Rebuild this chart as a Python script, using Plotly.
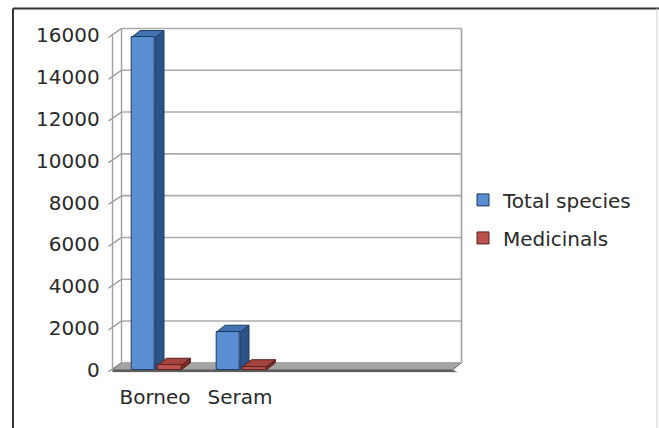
import plotly.graph_objects as go

# ---- data ----
categories = ["Borneo", "Seram"]
total_species = [15900, 1800]
medicinals = [220, 150]
slot_labels = ["Borneo", "Seram", "", ""]
y_ticks = [0, 2000, 4000, 6000, 8000, 10000, 12000, 14000, 16000]
y_tick_labels = ["0", "2000", "4000", "6000", "8000", "10000", "12000", "14000", "16000"]

# ---- geometry (pixel layout, measured on the 659x428 picture) ----
W, H = 659, 440
SY = H / 428.0                               # vertical design scale
X0_PX, CAT_PX = 155.0, 85.0                  # front pixel of category 0, pixels per category
Y0_PX = 367.0 * SY                           # front pixel of value 0
PX_PER_UNIT = 0.02085 * SY                   # pixels per unit
XR = [-0.58, 3.66]
YR = [-130, 16450]
DX = 9.0 / CAT_PX                            # depth offset (3D look) in data units
DY = 7.0 * SY / PX_PER_UNIT

def px_x(c):
    return X0_PX + CAT_PX * c

def px_y(v):
    return Y0_PX - v * PX_PER_UNIT

dom_x = [px_x(XR[0]) / W, px_x(XR[1]) / W]
dom_y = [(H - px_y(YR[0])) / H, (H - px_y(YR[1])) / H]

BLUE_FRONT, BLUE_SIDE, BLUE_TOP, BLUE_LINE = "#5B8FD4", "#2C5388", "#4272B2", "#1E3A5F"
RED_FRONT, RED_SIDE, RED_TOP, RED_LINE = "#BC524E", "#7A2B28", "#A5433F", "#5A1F1D"

BW = 0.28
series = [
    ("Total species", total_species, -0.28, BLUE_FRONT, BLUE_SIDE, BLUE_TOP, BLUE_LINE),
    ("Medicinals", medicinals, 0.03, RED_FRONT, RED_SIDE, RED_TOP, RED_LINE),
]

fig = go.Figure()
xs = list(range(len(categories)))
for i, (name, vals, off, fc, sc, tc, lc) in enumerate(series):
    fig.add_trace(go.Bar(
        x=xs, y=vals, name=name, offset=off, width=BW,
        marker=dict(color=fc, line=dict(color=lc, width=1)),
        legendgroup=name, hoverinfo="skip",
    ))

shapes = []
gx0, gx1 = -0.5, 3.5
# floor (top face and thin front slab)
shapes.append(dict(type="path", xref="x", yref="y", layer="below",
                   path=f"M{gx0},0 L{gx1},0 L{gx1+DX},{DY} L{gx0+DX},{DY} Z",
                   fillcolor="#A4A4A4", line=dict(color="#6A6A6A", width=1)))
shapes.append(dict(type="path", xref="x", yref="y", layer="below",
                   path=f"M{gx0},0 L{gx1},0 L{gx1+DX*0.6},{-110} L{gx0},{-110} Z",
                   fillcolor="#5E5E5E", line=dict(width=0)))
# back wall gridlines
for v in y_ticks:
    shapes.append(dict(type="line", xref="x", yref="y", layer="below",
                       x0=gx0 + DX, x1=gx1 + DX, y0=v + DY, y1=v + DY,
                       line=dict(color="#ABABAB", width=1.6)))
    # left wall connector / tick
    shapes.append(dict(type="line", xref="x", yref="y", layer="below",
                       x0=gx0 - 4.0 / CAT_PX, y0=v - 2.0 / PX_PER_UNIT,
                       x1=gx0 + DX, y1=v + DY,
                       line=dict(color="#8E8E8E", width=1.2)))
# wall verticals
top = y_ticks[-1]
shapes.append(dict(type="line", xref="x", yref="y", layer="below",
                   x0=gx0, x1=gx0, y0=0, y1=top, line=dict(color="#A0A0A0", width=1.4)))
shapes.append(dict(type="line", xref="x", yref="y", layer="below",
                   x0=gx0 + DX, x1=gx0 + DX, y0=DY, y1=top + DY, line=dict(color="#A0A0A0", width=1.4)))
shapes.append(dict(type="line", xref="x", yref="y", layer="below",
                   x0=gx1 + DX, x1=gx1 + DX, y0=DY, y1=top + DY, line=dict(color="#A0A0A0", width=1.6)))
# category boundary ticks below the floor
for c in [0.5, 1.5, 2.5, 3.5]:
    shapes.append(dict(type="line", xref="x", yref="y", layer="below",
                       x0=c, x1=c, y0=-110, y1=-130, line=dict(color="#9A9A9A", width=1)))

# 3D side and top faces of bars, computed from the data values
for name, vals, off, fc, sc, tc, lc in series:
    for xi, v in zip(xs, vals):
        xl = xi + off
        xr = xl + BW
        shapes.append(dict(type="path", xref="x", yref="y", layer="below",
                           path=f"M{xr},0 L{xr+DX},{DY} L{xr+DX},{v+DY} L{xr},{v} Z",
                           fillcolor=sc, line=dict(color=lc, width=1)))
        shapes.append(dict(type="path", xref="x", yref="y", layer="below",
                           path=f"M{xl},{v} L{xr},{v} L{xr+DX},{v+DY} L{xl+DX},{v+DY} Z",
                           fillcolor=tc, line=dict(color=lc, width=1)))

# outer frame
ft = 1 - 6.5 * SY / H
shapes.append(dict(type="line", xref="paper", yref="paper", x0=13 / W, x1=1, y0=ft, y1=ft,
                   line=dict(color="#333333", width=2)))
shapes.append(dict(type="line", xref="paper", yref="paper", x0=13 / W, x1=13 / W, y0=0, y1=ft,
                   line=dict(color="#333333", width=2)))
shapes.append(dict(type="line", xref="paper", yref="paper", x0=657 / W, x1=657 / W, y0=0, y1=ft,
                   line=dict(color="#CFCFCF", width=1)))

font = "DejaVu Sans"
fig.update_layout(
    width=W, height=H,
    margin=dict(l=0, r=0, t=0, b=0),
    paper_bgcolor="white", plot_bgcolor="rgba(0,0,0,0)",
    shapes=shapes,
    showlegend=True,
    hovermode=False,
    legend=dict(x=463 / W, y=1 - 178.0 * SY / H, xanchor="left", yanchor="top",
                font=dict(family=font, size=20, color="#2A2A2A"),
                tracegroupgap=9, bgcolor="rgba(0,0,0,0)"),
    xaxis=dict(domain=dom_x, range=XR, tickmode="array",
               tickvals=list(range(len(slot_labels))), ticktext=slot_labels,
               showgrid=False, zeroline=False, showline=False, ticks="",
               ticklabelstandoff=10,
               tickfont=dict(family=font, size=20, color="#2A2A2A")),
    yaxis=dict(domain=dom_y, range=YR, tickmode="array", tickvals=y_ticks,
               ticktext=y_tick_labels,
               showgrid=False, zeroline=False, showline=False, ticks="",
               ticklabelstandoff=5,
               tickfont=dict(family=font, size=20, color="#2A2A2A")),
    bargap=0,
)

fig.write_html("out.html", config={"displayModeBar": False},
               post_script="document.body.style.margin='0';document.body.style.overflow='hidden';")
